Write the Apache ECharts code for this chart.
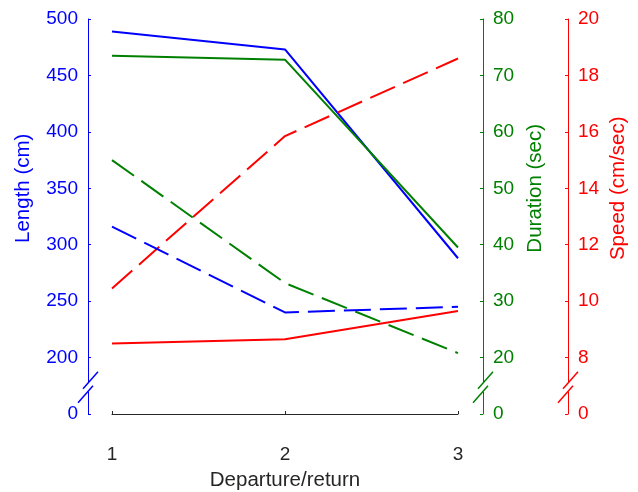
<!DOCTYPE html>
<html>
<head>
<meta charset="utf-8">
<script src="https://cdn.jsdelivr.net/npm/echarts@6/dist/echarts.min.js"></script>
<style>
html,body{margin:0;padding:0;background:#fff;overflow:hidden;}
#chart{width:638px;height:492px;}
</style>
</head>
<body>
<div id="chart"></div>
<script>
// ---- data ----
var trips = [1, 2, 3];
var lengthSolid = [489, 473, 288];
var lengthDashed = [316, 240, 245];
var durationSolid = [73.5, 72.8, 39.5];
var durationDashed = [55, 33.2, 20.8];
var speedSolid = [8.5, 8.65, 9.65];
var speedDashed = [10.45, 15.85, 18.6];
var xTicks = [1, 2, 3];
var lengthTicks = [0, 200, 250, 300, 350, 400, 450, 500];
var durationTicks = [0, 20, 30, 40, 50, 60, 70, 80];
var speedTicks = [0, 8, 10, 12, 14, 16, 18, 20];

var BLUE = '#0000ff', GREEN = '#008000', RED = '#ff0000', DARK = '#262626';
var FONT = "'Liberation Sans', Arial, Helvetica, sans-serif";
var TICK_FS = 19, LABEL_FS = 20.5;

function pairs(vals) { return trips.map(function (t, i) { return [t, vals[i]]; }); }

// axis with a broken segment: the lowest tick slot shows "0"
function brokenAxis(ticks, color, position, offset) {
  var step = ticks[2] - ticks[1];
  var low = ticks[1] - step;
  return {
    type: 'value', position: position, offset: offset,
    min: low, max: ticks[ticks.length - 1], interval: step,
    axisLine: { show: true, lineStyle: { color: color, width: 1 } },
    axisTick: { show: true, inside: true, length: 3, lineStyle: { color: color } },
    splitLine: { show: false },
    axisLabel: {
      color: color, fontSize: TICK_FS, fontFamily: FONT, margin: 10,
      formatter: function (v) { return Math.abs(v - low) < 1e-9 ? String(ticks[0]) : String(v); }
    }
  };
}

var dash = [27, 9];
function line(vals, color, yIdx, dashed) {
  return {
    type: 'line', data: pairs(vals), yAxisIndex: yIdx, symbol: 'none', silent: true,
    lineStyle: { color: color, width: 2, type: dashed ? dash : 'solid' },
    animation: false
  };
}

var chart = echarts.init(document.getElementById('chart'), null, { renderer: 'canvas' });
var option = {
  backgroundColor: '#fff',
  animation: false,
  grid: { left: 112, right: 180, top: 19, bottom: 78, containLabel: false, outerBoundsMode: 'none' },
  xAxis: {
    type: 'value', min: xTicks[0], max: xTicks[xTicks.length - 1], interval: 1,
    axisLine: { lineStyle: { color: DARK, width: 1 } },
    axisTick: { inside: true, length: 3, lineStyle: { color: DARK } },
    splitLine: { show: false },
    axisLabel: { color: DARK, fontSize: TICK_FS, fontFamily: FONT, margin: 31 },
    name: 'Departure/return', nameLocation: 'middle', nameGap: 56,
    nameTextStyle: { color: DARK, fontSize: LABEL_FS, fontFamily: FONT }
  },
  yAxis: [
    brokenAxis(lengthTicks, BLUE, 'left', 24),
    brokenAxis(durationTicks, GREEN, 'right', 25),
    brokenAxis(speedTicks, RED, 'right', 110)
  ],
  series: [
    line(lengthSolid, BLUE, 0, false),
    line(durationSolid, GREEN, 1, false),
    line(speedDashed, RED, 2, true),
    line(durationDashed, GREEN, 1, true),
    line(lengthDashed, BLUE, 0, true),
    line(speedSolid, RED, 2, false)
  ]
};
chart.setOption(option);

// axis titles and break marks
var axesX = [112 - 24, 638 - 180 + 25, 638 - 180 + 110];
var colors = [BLUE, GREEN, RED];
var titles = ['Length (cm)', 'Duration (sec)', 'Speed (cm/sec)'];
var titleX = [23, 535, 618];
var yTopPx = chart.convertToPixel({ yAxisIndex: 0 }, lengthTicks[lengthTicks.length - 1]);
var yFirstPx = chart.convertToPixel({ yAxisIndex: 0 }, lengthTicks[1]);
var yZeroPx = chart.convertToPixel({ yAxisIndex: 0 }, lengthTicks[1] - (lengthTicks[2] - lengthTicks[1]));
var yc = (yFirstPx + yZeroPx) / 2 + 2;
var titleY = (yTopPx + yFirstPx) / 2;
var elems = [];
for (var i = 0; i < 3; i++) {
  var x0 = axesX[i], c = colors[i];
  elems.push({ type: 'rect', z: 100, shape: { x: x0 - 2, y: yc - 5, width: 4, height: 9 }, style: { fill: '#fff' } });
  elems.push({ type: 'line', z: 101, shape: { x1: x0 - 5, y1: yc + 1, x2: x0 + 10, y2: yc - 16 }, style: { stroke: c, lineWidth: 1.5 } });
  elems.push({ type: 'line', z: 101, shape: { x1: x0 - 10, y1: yc + 15, x2: x0 + 5, y2: yc - 2 }, style: { stroke: c, lineWidth: 1.5 } });
  elems.push({
    type: 'text', z: 101, x: titleX[i], y: titleY, rotation: Math.PI / 2,
    style: { text: titles[i], fill: c, font: LABEL_FS + 'px ' + FONT, align: 'center', verticalAlign: 'middle' }
  });
}
chart.setOption({ graphic: elems });
</script>
</body>
</html>
